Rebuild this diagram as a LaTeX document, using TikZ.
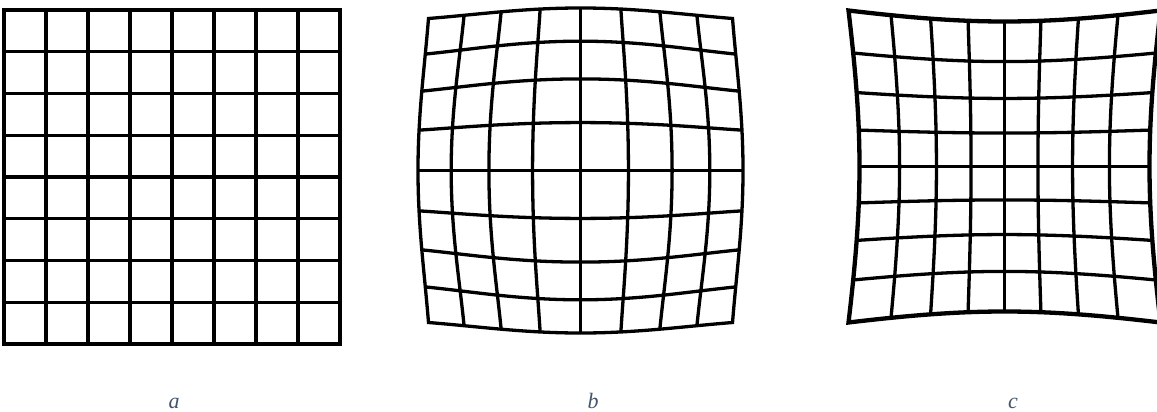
\documentclass[tikz,border=0pt]{standalone}
\usepackage{fontspec}
\setmainfont{Liberation Serif}
\definecolor{gridink}{RGB}{0,0,0}
\definecolor{capslate}{RGB}{68,84,106}

\begin{document}
\begin{tikzpicture}[x=1pt, y=-1pt,
    declare function={barrel(\r)=147+48*exp(-1.13*\r); pincush(\r)=133+12.5*\r-0.5*\r*\r;},
    gridline/.style={gridink, line width=3.3pt},
    frameline/.style={gridink, line width=4.3pt, line join=miter},
    sublabel/.style={font=\fontsize{22}{26}\selectfont\itshape, text=capslate, anchor=base, inner sep=0pt}]
    \useasboundingbox (0,0) rectangle (1157,412);
    \clip (0,0) rectangle (1157,412);

    % Regular grid
    \foreach \k in {1,...,7} {
        \draw[gridline] ({4+42*\k},10) -- ({4+42*\k},344);
        \draw[gridline] (4,{10+41.75*\k}) -- (340,{10+41.75*\k});
    }
    \draw[frameline] (4,10) rectangle (340,344);

    % Barrel grid
    \foreach \i in {-3,...,3} {
        \draw[gridline] plot[variable=\t, domain=-1:1, samples=41, smooth]
            ({580.5+(\i/4)*barrel((\i/4)^2+(\t)^2)}, {170.5+(\t)*barrel((\i/4)^2+(\t)^2)});
        \draw[gridline] plot[variable=\t, domain=-1:1, samples=41, smooth]
            ({580.5+(\t)*barrel((\i/4)^2+(\t)^2)}, {170.5+(\i/4)*barrel((\i/4)^2+(\t)^2)});
    }
    \draw[gridline, line join=miter] plot[variable=\t, domain=-1:1, samples=41, smooth]
            ({580.5+(\t)*barrel(1+(\t)^2)}, {170.5-barrel(1+(\t)^2)})
        -- plot[variable=\t, domain=-1:1, samples=41, smooth]
            ({580.5+barrel(1+(\t)^2)}, {170.5+(\t)*barrel(1+(\t)^2)})
        -- plot[variable=\t, domain=-1:1, samples=41, smooth]
            ({580.5-(\t)*barrel(1+(\t)^2)}, {170.5+barrel(1+(\t)^2)})
        -- plot[variable=\t, domain=-1:1, samples=41, smooth]
            ({580.5-barrel(1+(\t)^2)}, {170.5-(\t)*barrel(1+(\t)^2)}) -- cycle;

    % Pincushion grid
    \foreach \i in {-3,...,3} {
        \draw[gridline] plot[variable=\t, domain=-1:1, samples=41, smooth]
            ({1004.5+(\i/4)*pincush((\i/4)^2+(\t)^2)}, {166.5+(\t)*pincush((\i/4)^2+(\t)^2)});
        \draw[gridline] plot[variable=\t, domain=-1:1, samples=41, smooth]
            ({1004.5+(\t)*pincush((\i/4)^2+(\t)^2)}, {166.5+(\i/4)*pincush((\i/4)^2+(\t)^2)});
    }
    \draw[frameline] plot[variable=\t, domain=-1:1, samples=41, smooth]
            ({1004.5+(\t)*pincush(1+(\t)^2)}, {166.5-pincush(1+(\t)^2)})
        -- plot[variable=\t, domain=-1:1, samples=41, smooth]
            ({1004.5+pincush(1+(\t)^2)}, {166.5+(\t)*pincush(1+(\t)^2)})
        -- plot[variable=\t, domain=-1:1, samples=41, smooth]
            ({1004.5-(\t)*pincush(1+(\t)^2)}, {166.5+pincush(1+(\t)^2)})
        -- plot[variable=\t, domain=-1:1, samples=41, smooth]
            ({1004.5-pincush(1+(\t)^2)}, {166.5-(\t)*pincush(1+(\t)^2)}) -- cycle;

    % Sub-figure letters
    \node[sublabel] (capA) at (174,408) {a};
    \node[sublabel] (capB) at (593,408) {b};
    \node[sublabel] (capC) at (1013,408) {c};
\end{tikzpicture}
\end{document}
